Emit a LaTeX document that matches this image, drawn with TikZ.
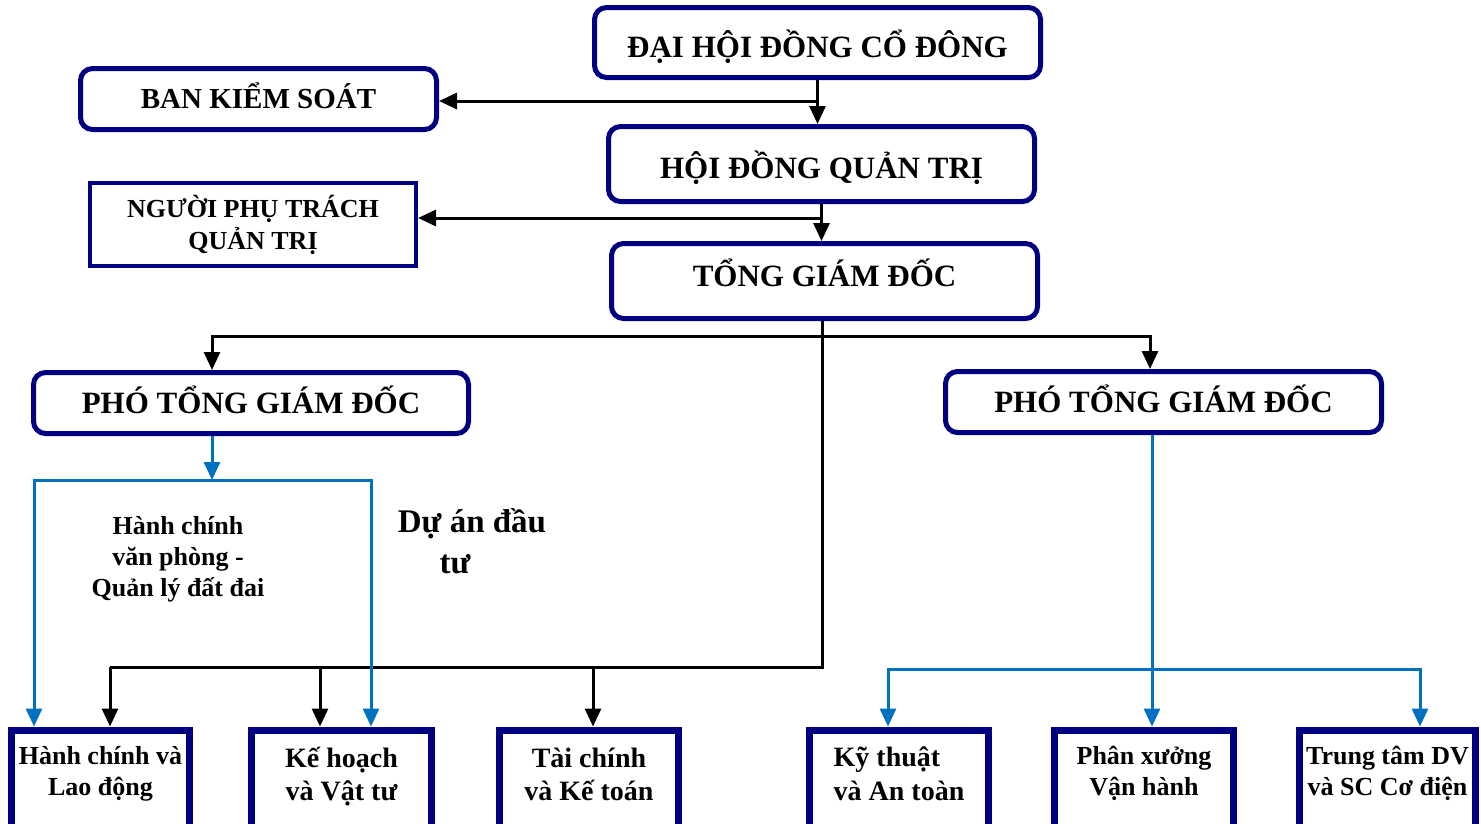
\documentclass[tikz,border=0pt]{standalone}
\usepackage{fontspec}
\setmainfont{Liberation Serif}
\usetikzlibrary{arrows.meta}
\definecolor{khung}{RGB}{0,0,128}
\definecolor{xanh}{RGB}{0,112,192}
\newcommand{\keoxuong}[1][22pt]{\rule[-#1]{0pt}{0pt}}
\tikzset{
	hopbo/.style={draw=khung,line width=5pt,rounded corners=12pt,fill=white,inner sep=0pt,align=center,text height=27pt,text depth=7pt,font=\bfseries\fontsize{31}{36}\selectfont},
	hopvuong/.style={draw=khung,line width=7pt,fill=white,inner sep=0pt,align=center,anchor=north,minimum height=104pt,font=\bfseries\fontsize{26}{31}\selectfont},
	mui/.tip={Triangle[width=16pt,length=18pt]},
	noiden/.style={line width=3pt,-mui},
	noixanh/.style={line width=3pt,draw=xanh,-mui},
	haidau/.style={line width=3pt,mui-mui}
}
\begin{document}
\begin{tikzpicture}[x=1pt,y=-1pt]
			\clip (0,0) rectangle (1481,823);
			\fill[white] (0,0) rectangle (1481,823);
			% khoi lanh dao
			\node[hopbo,minimum width=446pt,minimum height=70pt,text height=36pt] (dhcd) at (817.5,42.5) {ĐẠI HỘI ĐỒNG CỔ ĐÔNG};
			\node[hopbo,minimum width=356pt,minimum height=61pt,text height=25pt,font=\bfseries\fontsize{29}{34}\selectfont] (bks) at (258.5,99) {BAN KIỂM SOÁT};
			\node[hopbo,minimum width=426pt,minimum height=75pt,text height=35pt] (hdqt) at (821.5,164) {HỘI ĐỒNG QUẢN TRỊ};
			\node[draw=khung,line width=4pt,fill=white,inner sep=0pt,align=center,minimum width=326pt,minimum height=83pt,font=\bfseries\fontsize{26}{32}\selectfont] (nptqt) at (253,224.5) {NGƯỜI PHỤ TRÁCH\\QUẢN TRỊ};
			\node[hopbo,minimum width=426pt,minimum height=75pt,text height=22pt,text depth=12pt] (tgd) at (824.5,281) {TỔNG GIÁM ĐỐC};
			\node[hopbo,minimum width=435pt,minimum height=61pt] (ptL) at (251,403) {PHÓ TỔNG GIÁM ĐỐC};
			\node[hopbo,minimum width=436pt,minimum height=61pt] (ptR) at (1163.5,402) {PHÓ TỔNG GIÁM ĐỐC};
			% cac phong ban
			\node[hopvuong,minimum width=178pt] (hcld) at (100.5,726.5) {Hành chính và\\Lao động\keoxuong};
			\node[hopvuong,minimum width=180pt,font=\bfseries\fontsize{28}{33}\selectfont] (khvt) at (341.5,726.5) {Kế hoạch\\và Vật tư\keoxuong[16pt]};
			\node[hopvuong,minimum width=179pt,font=\bfseries\fontsize{28}{33}\selectfont] (tckt) at (589,726.5) {Tài chính\\và Kế toán\keoxuong[16pt]};
			\node[hopvuong,minimum width=179pt,align=left,font=\bfseries\fontsize{28}{34}\selectfont] (ktat) at (899,726.5) {Kỹ thuật\\và An toàn\keoxuong[16pt]};
			\node[hopvuong,minimum width=179pt] (pxvh) at (1144,726.5) {Phân xưởng\\Vận hành\keoxuong};
			\node[hopvuong,minimum width=176pt] (ttdv) at (1387.5,726.5) {Trung tâm DV\\và SC Cơ điện\keoxuong};
			\node[align=center,font=\bfseries\fontsize{26}{31}\selectfont] (hcvp) at (178,559) {Hành chính\\văn phòng -\\Quản lý đất đai};
			\node[align=center,font=\bfseries\fontsize{33}{41}\selectfont] (dadt) at (472,541) {Dự án đầu\\\hspace*{-34pt}tư};
			% duong noi
			\coordinate (r1) at (817.5,101);
			\coordinate (r2) at (821.5,218);
			\draw[noiden] (dhcd.south) -- (dhcd.south |- hdqt.north);
			\draw[noiden] (r1) -- (r1 -| bks.east);
			\draw[noiden] (hdqt.south) -- (hdqt.south |- tgd.north);
			\draw[noiden] (r2) -- (r2 -| nptqt.east);
			\coordinate (n1) at (212,336);
			\coordinate (n2) at (1150,336);
			\draw[haidau] (n1 |- ptL.north) -- (n1) -- (n2) -- (n2 |- ptR.north);
			\coordinate (g0) at (822,667);
			\coordinate (g1) at (110,667);
			\draw[line width=3pt] (tgd.south -| g0) -- (g0) -- (g1);
			\foreach \x/\p in {110/hcld,320/khvt,593/tckt}{
				\coordinate (gx) at (\x,667);
				\draw[noiden] (gx) -- (gx |- \p.north);
			}
			\coordinate (b0) at (212,480);
			\coordinate (b1) at (34,480);
			\coordinate (b2) at (371,480);
			\draw[noixanh] (ptL.south -| b0) -- (b0);
			\draw[haidau,draw=xanh] (b1 |- hcld.north) -- (b1) -- (b2) -- (b2 |- khvt.north);
			\coordinate (c0) at (1152,669);
			\coordinate (c1) at (888,669);
			\coordinate (c2) at (1420,669);
			\draw[noixanh] (ptR.south -| c0) -- (c0 |- pxvh.north);
			\draw[haidau,draw=xanh] (c1 |- ktat.north) -- (c1) -- (c2) -- (c2 |- ttdv.north);
		\end{tikzpicture}
\end{document}
